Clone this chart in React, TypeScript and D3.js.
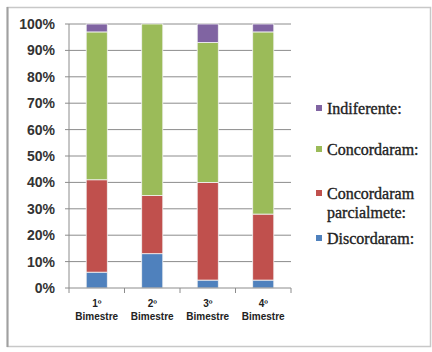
import { useEffect, useRef } from "react";
import * as d3 from "d3";

const periods = ["1º|Bimestre", "2º|Bimestre", "3º|Bimestre", "4º|Bimestre"];
const seriesColors = ["#4F81BD", "#C0504D", "#9BBB59", "#8064A2"];
const discordaram = [6, 13, 3, 3];
const parcialmente = [35, 22, 37, 25];
const concordaram = [56, 65, 53, 69];
const indiferente = [3, 0, 7, 3];
const yTicks = [0, 10, 20, 30, 40, 50, 60, 70, 80, 90, 100];

export default function App() {
  const svgRef = useRef<SVGSVGElement>(null);

  useEffect(() => {
    if (!svgRef.current) return;
    const width = 432;
    const height = 352;
    const margin = { top: 24, right: 141, bottom: 64, left: 69 };
    const innerWidth = width - margin.left - margin.right;
    const innerHeight = height - margin.top - margin.bottom;

    d3.select(svgRef.current).selectAll("*").remove();
    const svg = d3.select(svgRef.current).attr("width", width).attr("height", height);

    // Outer frame
    svg
      .append("rect")
      .attr("x", 7.5)
      .attr("y", 7.5)
      .attr("width", 423)
      .attr("height", 339)
      .attr("fill", "white")
      .attr("stroke", "#c8c8c8")
      .attr("stroke-width", 1.5);
    svg
      .append("line")
      .attr("x1", 7.5)
      .attr("x2", 7.5)
      .attr("y1", 7)
      .attr("y2", 347)
      .attr("stroke", "#a0a0a0")
      .attr("stroke-width", 2);

    const g = svg.append("g").attr("transform", `translate(${margin.left},${margin.top})`);

    const x = d3.scaleBand().domain(periods).range([0, innerWidth]).paddingInner(0.62).paddingOuter(0.31);
    const y = d3.scaleLinear().domain([0, 100]).range([innerHeight, 0]);

    // Grid lines
    g.append("g")
      .selectAll("line")
      .data(yTicks.slice(1))
      .enter()
      .append("line")
      .attr("x1", -4)
      .attr("x2", innerWidth)
      .attr("y1", (d) => y(d))
      .attr("y2", (d) => y(d))
      .attr("stroke", "#8c8c8c")
      .attr("stroke-width", 1);

    // Y labels
    g.append("g")
      .selectAll("text")
      .data(yTicks)
      .enter()
      .append("text")
      .attr("x", -14)
      .attr("y", (d) => y(d))
      .attr("dy", "0.35em")
      .attr("text-anchor", "end")
      .attr("font-family", "Liberation Sans, Arial, sans-serif")
      .attr("font-weight", "bold")
      .attr("font-size", 14)
      .attr("fill", "#333")
      .text((d) => `${d}%`);

    // Stacked bars
    const rows = periods.map((p, i) => ({
      period: p,
      s0: discordaram[i],
      s1: parcialmente[i],
      s2: concordaram[i],
      s3: indiferente[i],
    }));
    const stack = d3.stack<any>().keys(["s0", "s1", "s2", "s3"]);
    const layers = stack(rows);

    layers.forEach((layer, li) => {
      g.append("g")
        .selectAll("rect")
        .data(layer)
        .enter()
        .append("rect")
        .attr("x", (d: any) => x(d.data.period) as number)
        .attr("width", x.bandwidth())
        .attr("y", (d) => y(d[1]))
        .attr("height", (d) => Math.max(0, y(d[0]) - y(d[1])))
        .attr("fill", seriesColors[li])
        .attr("stroke", "#f4f4f4")
        .attr("stroke-width", (d) => (d[1] - d[0] > 0 ? 0.8 : 0));
    });

    // Axes lines
    g.append("line")
      .attr("x1", 0)
      .attr("x2", 0)
      .attr("y1", 0)
      .attr("y2", innerHeight)
      .attr("stroke", "#8c8c8c");
    g.append("line")
      .attr("x1", -4)
      .attr("x2", innerWidth)
      .attr("y1", innerHeight)
      .attr("y2", innerHeight)
      .attr("stroke", "#8c8c8c");

    // Category tick marks at boundaries
    const step = x.step();
    const start = (x(periods[0]) as number) - x.paddingOuter() * step;
    g.append("g")
      .selectAll("line")
      .data(d3.range(periods.length + 1))
      .enter()
      .append("line")
      .attr("x1", (i) => start + i * step)
      .attr("x2", (i) => start + i * step)
      .attr("y1", innerHeight)
      .attr("y2", innerHeight + 5)
      .attr("stroke", "#8c8c8c");

    // Category labels
    periods.forEach((p) => {
      const [l1, l2] = p.split("|");
      const cx = (x(p) as number) + x.bandwidth() / 2;
      const t = g
        .append("text")
        .attr("text-anchor", "middle")
        .attr("font-family", "Liberation Sans, Arial, sans-serif")
        .attr("font-weight", "bold")
        .attr("font-size", 10)
        .attr("fill", "#222");
      t.append("tspan").attr("x", cx).attr("y", innerHeight + 19).text(l1);
      t.append("tspan").attr("x", cx).attr("y", innerHeight + 32).text(l2);
    });

    // Legend
    const legendItems = [
      { label: ["Indiferente:"], color: seriesColors[3], y: 108 },
      { label: ["Concordaram:"], color: seriesColors[2], y: 149 },
      { label: ["Concordaram", "parcialmete:"], color: seriesColors[1], y: 193 },
      { label: ["Discordaram:"], color: seriesColors[0], y: 238 },
    ];
    legendItems.forEach((item) => {
      svg
        .append("rect")
        .attr("x", 316)
        .attr("y", item.y - 3)
        .attr("width", 6)
        .attr("height", 6)
        .attr("fill", item.color);
      const t = svg
        .append("text")
        .attr("font-family", "Liberation Serif, Times New Roman, serif")
        .attr("font-size", 16)
        .attr("fill", "#222")
        .attr("stroke", "#222")
        .attr("stroke-width", 0.35);
      item.label.forEach((line, i) => {
        t.append("tspan")
          .attr("x", 327)
          .attr("y", item.y + i * 19)
          .attr("dy", "0.35em")
          .text(line);
      });
    });
  }, []);

  return <svg ref={svgRef} style={{ position: "absolute", left: 0, top: 0 }} />;
}
